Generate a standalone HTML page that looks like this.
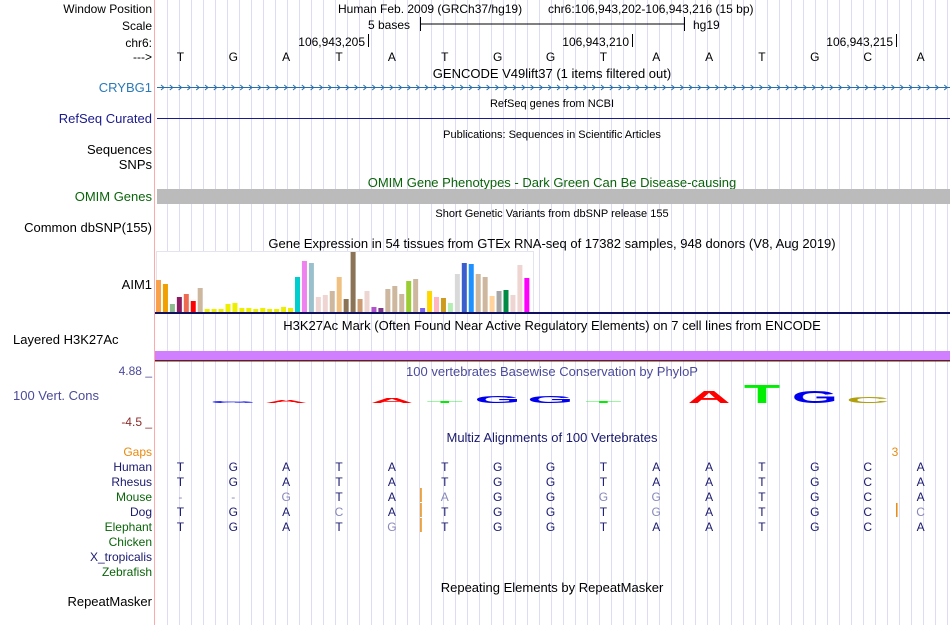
<!DOCTYPE html>
<html><head><meta charset="utf-8"><style>
body{margin:0;background:#fff;}
svg{display:block;font-family:"Liberation Sans",sans-serif;}
</style></head><body>
<svg id="s" width="950" height="625" viewBox="0 0 950 625">
<g id="grid"></g>
<line x1="154.5" y1="0" x2="154.5" y2="625" stroke="#ffaaaa"/>
<g font-size="13" text-anchor="end">
<text x="152" y="13" font-size="12" fill="#000">Window Position</text>
<text x="152" y="30" font-size="12" fill="#000">Scale</text>
<text x="152" y="47" font-size="12" fill="#000">chr6:</text>
<text x="152" y="61" font-size="12" fill="#000">---&gt;</text>
<text x="152" y="92" fill="#2a7ab8">CRYBG1</text>
<text x="152" y="123" fill="#1a1a8c">RefSeq Curated</text>
<text x="152" y="154" fill="#000">Sequences</text>
<text x="152" y="169" fill="#000">SNPs</text>
<text x="152" y="201" fill="#0a640a">OMIM Genes</text>
<text x="152" y="232" fill="#000">Common dbSNP(155)</text>
<text x="152" y="289" fill="#000">AIM1</text>
<text x="13" y="344" text-anchor="start" fill="#000">Layered H3K27Ac</text>
<text x="152" y="375" font-size="12" fill="#4b4b9a">4.88 _</text>
<text x="13" y="400" text-anchor="start" fill="#4b4b9a">100 Vert. Cons</text>
<text x="152" y="426" font-size="12" fill="#8b2a2a">-4.5 _</text>
<text x="152" y="456" font-size="12" fill="#e88a10">Gaps</text>
<text x="152" y="471" font-size="12" fill="#1a1a6e">Human</text>
<text x="152" y="486" font-size="12" fill="#1a1a6e">Rhesus</text>
<text x="152" y="501" font-size="12" fill="#0a640a">Mouse</text>
<text x="152" y="516" font-size="12" fill="#1a1a6e">Dog</text>
<text x="152" y="531" font-size="12" fill="#0a640a">Elephant</text>
<text x="152" y="546" font-size="12" fill="#0a640a">Chicken</text>
<text x="152" y="561" font-size="12" fill="#1a1a6e">X_tropicalis</text>
<text x="152" y="576" font-size="12" fill="#0a640a">Zebrafish</text>
<text x="152" y="606" fill="#000">RepeatMasker</text>
</g>
<g font-size="12" fill="#000">
<text x="338" y="13">Human Feb. 2009 (GRCh37/hg19)</text>
<text x="548" y="13">chr6:106,943,202-106,943,216 (15 bp)</text>
<text x="410" y="29" text-anchor="end">5 bases</text>
<line x1="420" y1="24" x2="685" y2="24" stroke="#000"/>
<line x1="420.5" y1="17" x2="420.5" y2="31" stroke="#000"/>
<line x1="684.5" y1="17" x2="684.5" y2="31" stroke="#000"/>
<text x="693" y="29">hg19</text>
<text x="365" y="46" text-anchor="end">106,943,205</text>
<line x1="368.5" y1="34" x2="368.5" y2="47" stroke="#000"/>
<text x="629" y="46" text-anchor="end">106,943,210</text>
<line x1="632.5" y1="34" x2="632.5" y2="47" stroke="#000"/>
<text x="893" y="46" text-anchor="end">106,943,215</text>
<line x1="896.5" y1="34" x2="896.5" y2="47" stroke="#000"/>
</g>
<g id="bases" font-size="12" text-anchor="middle"></g>
<g text-anchor="middle">
<text x="552" y="78" font-size="13">GENCODE V49lift37 (1 items filtered out)</text>
<text x="552" y="107" font-size="11">RefSeq genes from NCBI</text>
<text x="552" y="138" font-size="11">Publications: Sequences in Scientific Articles</text>
<text x="552" y="187" font-size="13" fill="#0a640a">OMIM Gene Phenotypes - Dark Green Can Be Disease-causing</text>
<text x="552" y="217" font-size="11">Short Genetic Variants from dbSNP release 155</text>
<text x="552" y="248" font-size="13">Gene Expression in 54 tissues from GTEx RNA-seq of 17382 samples, 948 donors (V8, Aug 2019)</text>
<text x="552" y="330" font-size="13">H3K27Ac Mark (Often Found Near Active Regulatory Elements) on 7 cell lines from ENCODE</text>
<text x="552" y="376" font-size="13" fill="#4b4b9a">100 vertebrates Basewise Conservation by PhyloP</text>
<text x="552" y="442" font-size="13" fill="#1a1a6e">Multiz Alignments of 100 Vertebrates</text>
<text x="552" y="592" font-size="13">Repeating Elements by RepeatMasker</text>
</g>
<line x1="157" y1="87.5" x2="950" y2="87.5" stroke="#2a6ea8"/>
<g id="arrows" fill="none" stroke="#2a6ea8" stroke-width="1"></g>
<line x1="157" y1="118.5" x2="950" y2="118.5" stroke="#1a1a8c"/>
<rect x="157" y="189" width="793" height="15" fill="#bbbbbb"/>
<rect x="156.5" y="251.5" width="377" height="61" fill="#fff" stroke="#e4e4ee"/>
<g id="gtex"></g>
<rect x="155" y="312" width="795" height="2" fill="#101060"/>
<rect x="155" y="351" width="795" height="9" fill="#d080ff"/>
<rect x="155" y="360" width="795" height="1.5" fill="#602020"/>
<g id="logo" text-anchor="middle" font-weight="bold"></g>
<text x="895" y="456" font-size="12" fill="#e88a10" text-anchor="middle">3</text>
<g id="maf" font-size="12" text-anchor="middle"></g>
</svg>
<script>
var bases=["T","G","A","T","A","T","G","G","T","A","A","T","G","C","A"];
var gtexValues=[32,28,8,15,18,11,24,3,3,3,8,9,4,4,3,4,3,3,5,4,35,51,49,15,17,21,35,13,60,13,21,5,4,23,26,18,31,33,4,21,15,14,9,38,49,48,38,35,16,21,22,17,47,34];
var gtexColors=["#f8a14a","#f0a000","#8fbc8f","#8b1c62","#ee6a50","#ff0000","#cdb79e","#eeee00","#eeee00","#eeee00","#eeee00","#eeee00","#eeee00","#eeee00","#eeee00","#eeee00","#eeee00","#eeee00","#eeee00","#eeee00","#00cdcd","#ee82ee","#9ac0cd","#eed5d2","#eed5d2","#cdb79e","#f0c080","#8b7355","#8b7355","#cd9b71","#eed5d2","#b452cd","#7a378b","#cdb79e","#cdb79e","#cdb79e","#9acd32","#cdb79e","#7b68ee","#ffd700","#ffb6c1","#cd9b1d","#b4eeb4","#d9d9d9","#3a5fcd","#1e90ff","#cdb79e","#cdb79e","#ffd39b","#a6a6a6","#008b45","#eed5d2","#eed5d2","#ff00ff"];
var phylopLetters=["","G","A","","A","T","G","G","T","","A","T","G","C",""];
var phylopHeights=[0,0.3,0.5,0,0.8,0.3,1.1,1.1,0.3,0,2.0,2.9,2.0,0.9,0];
var phylopColors={A:"#ff0000",T:"#00ee00",G:"#0000ee",C:"#b0a010"};
var species=["Human","Rhesus","Mouse","Dog","Elephant"];
var mafRows=["TGATATGGTAATGCA","TGATATGGTAATGCA","--GTAAGGGGATGCA","TGACATGGTGATGCC","TGATGTGGTAATGCA"];
var mafFaint=["000000000000000","000000000000000","111001001100000","000100000100001","000010000000000"];
var gapMarks=[[2,4.55],[3,4.55],[3,13.55],[4,4.55]];
var NS="http://www.w3.org/2000/svg";
function mk(t,a,p){var e=document.createElementNS(NS,t);for(var k in a)e.setAttribute(k,a[k]);p.appendChild(e);return e;}
function bx(i){return 180.4+52.87*i;}
var yScaleGtex=1;
var g=document.getElementById("grid");
for(var x=167.5;x<950;x+=12){var l=mk("line",{x1:x,y1:0,x2:x,y2:625,stroke:"#dcdcf4"},g);

}
var bg=document.getElementById("bases");
bases.forEach(function(b,i){var t=mk("text",{x:bx(i),y:61},bg);t.textContent=b;

});
var ag=document.getElementById("arrows");
for(var x=161;x<948;x+=8.8){var p=mk("path",{d:"M"+x+" 85 L"+(x+3)+" 87.5 L"+x+" 90"},ag);

}
var gg=document.getElementById("gtex");
gtexValues.forEach(function(v,i){var h=v*yScaleGtex;var r=mk("rect",{x:156+i*6.95,y:312-h,width:5,height:h,fill:gtexColors[i]},gg);

});
var lg=document.getElementById("logo");
phylopLetters.forEach(function(L,i){if(!L)return;var h=phylopHeights[i]*6.5;var sy=Math.max(h/13,0.08);
var t=mk("text",{x:0,y:0,"font-size":18,fill:phylopColors[L],transform:"translate("+bx(i)+",403) scale(3.3,"+sy+")"},lg);t.textContent=L;

});
var mg=document.getElementById("maf");
mafRows.forEach(function(row,r){for(var i=0;i<row.length;i++){var c=row[i];var f=mafFaint[r][i]==="1";
var t=mk("text",{x:bx(i),y:471+15*r,fill:f?"#8888bb":"#1a1a6e"},mg);t.textContent=c;

}});
gapMarks.forEach(function(m){var x=bx(m[1]);var l=mk("line",{x1:x,y1:459+15*m[0]-1,x2:x,y2:459+15*m[0]+13,stroke:"#e88a10","stroke-width":1.5},mg);

});
</script>
</body></html>
